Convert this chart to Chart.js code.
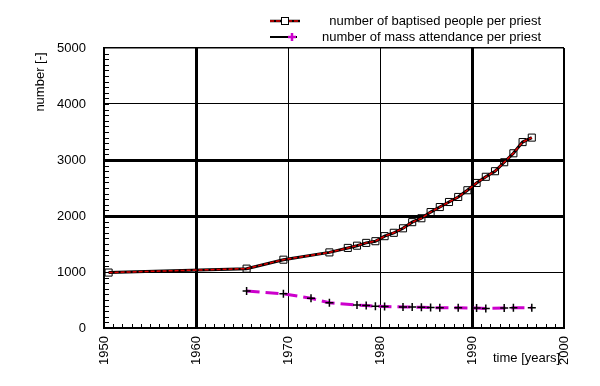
<!DOCTYPE html>
<html>
<head>
<meta charset="utf-8">
<script src="https://cdn.jsdelivr.net/npm/chart.js@4.4.0/dist/chart.umd.min.js"></script>
<style>
html, body { margin: 0; padding: 0; background: #fff; }
</style>
</head>
<body>
<canvas id="myChart" width="600" height="386"></canvas>
<script>
// baptised people per priest (square markers)
const baptisedYears = [1950, 1965, 1969, 1974, 1976, 1977, 1978, 1979, 1980, 1981, 1982, 1983, 1984, 1985, 1986, 1987, 1988, 1989, 1990, 1991, 1992, 1993, 1994, 1995, 1996];
const baptisedValues = [990, 1060, 1220, 1350, 1430, 1470, 1520, 1550, 1640, 1700, 1780, 1890, 1960, 2070, 2160, 2250, 2340, 2460, 2590, 2700, 2800, 2960, 3120, 3320, 3400];
// mass attendance per priest (cross markers)
const massYears = [1965, 1969, 1972, 1974, 1977, 1978, 1979, 1980, 1982, 1983, 1984, 1985, 1986, 1988, 1990, 1991, 1993, 1994, 1996];
const massValues = [660, 610, 530, 450, 410, 400, 390, 385, 375, 375, 370, 365, 360, 360, 355, 350, 355, 360, 360];
const xTicks = [1950, 1960, 1970, 1980, 1990, 2000];
const yTicks = [0, 1000, 2000, 3000, 4000, 5000];
const thickX = [1960, 1990];
const thickY = [2000, 3000];
const legendLabels = ['number of baptised people per priest', 'number of mass attendance per priest'];

const FONT = 'Liberation Sans';

function toPoints(years, values) {
    // values are yearly averages, drawn at mid-year
    return years.map((y, i) => ({ x: y + 0.5, y: values[i] }));
}

const minorTicks = {
    id: 'minorTicks',
    afterDatasetsDraw(chart) {
        const ctx = chart.ctx;
        const xs = chart.scales.x, ys = chart.scales.y;
        const area = chart.chartArea;
        ctx.save();
        ctx.strokeStyle = '#000';
        ctx.lineWidth = 1;
        ctx.beginPath();
        for (let yr = xTicks[0] + 1; yr < xTicks[xTicks.length - 1]; yr++) {
            const px = Math.round(xs.getPixelForValue(yr)) + 0.5;
            ctx.moveTo(px, area.bottom);
            ctx.lineTo(px, area.bottom - 4);
        }
        for (let v = 100; v < 5000; v += 100) {
            const py = Math.round(ys.getPixelForValue(v)) + 0.5;
            ctx.moveTo(area.left, py);
            ctx.lineTo(area.left + 5, py);
        }
        ctx.stroke();
        ctx.restore();
    }
};

const extraText = {
    id: 'extraText',
    afterDraw(chart) {
        const ctx = chart.ctx;
        ctx.save();
        ctx.fillStyle = '#000';
        ctx.font = '13px "' + FONT + '"';
        // axis titles
        ctx.save();
        ctx.translate(40, 82);
        ctx.rotate(-Math.PI / 2);
        ctx.textAlign = 'center';
        ctx.textBaseline = 'middle';
        ctx.fillText('number [-]', 0, 0);
        ctx.restore();
        ctx.textAlign = 'left';
        ctx.textBaseline = 'middle';
        ctx.fillText('time [years]', 493, 358);

        // legend
        const rows = [21, 37];
        ctx.textAlign = 'right';
        ctx.fillText(legendLabels[0], 541, rows[0]);
        ctx.fillText(legendLabels[1], 541, rows[1]);
        // row 1 sample
        ctx.lineWidth = 2.5;
        ctx.strokeStyle = '#000';
        ctx.beginPath();
        ctx.moveTo(270, rows[0]); ctx.lineTo(300, rows[0]);
        ctx.stroke();
        ctx.lineWidth = 1.5;
        ctx.strokeStyle = '#e00000';
        ctx.setLineDash([4, 2]);
        ctx.beginPath();
        ctx.moveTo(270, rows[0]); ctx.lineTo(300, rows[0]);
        ctx.stroke();
        ctx.setLineDash([]);
        ctx.strokeStyle = '#000';
        ctx.lineWidth = 1;
        ctx.fillStyle = '#fff';
        ctx.fillRect(281.5, rows[0] - 3.5, 7, 7);
        ctx.strokeRect(281.5, rows[0] - 3.5, 7, 7);
        // row 2 sample
        ctx.lineWidth = 2;
        ctx.beginPath();
        ctx.moveTo(270, rows[1]); ctx.lineTo(297, rows[1]);
        ctx.stroke();
        ctx.strokeStyle = '#cc00cc';
        ctx.lineWidth = 2.5;
        ctx.beginPath();
        ctx.moveTo(288, rows[1]); ctx.lineTo(296, rows[1]);
        ctx.moveTo(292, rows[1] - 4); ctx.lineTo(292, rows[1] + 4);
        ctx.stroke();
        ctx.restore();
    }
};

Chart.register(minorTicks, extraText);

const canvasContext = document.getElementById('myChart').getContext('2d');
const baptisedPoints = toPoints(baptisedYears, baptisedValues);
const config = {
    type: 'line',
    data: {
        datasets: [{
            label: legendLabels[0] + ' (fit)',
            data: baptisedPoints,
            borderColor: '#e00000',
            borderWidth: 1.5,
            borderDash: [4, 2],
            pointRadius: 0,
            order: 0
        }, {
            label: legendLabels[0],
            data: baptisedPoints,
            borderColor: '#000',
            borderWidth: 3,
            pointStyle: 'rect',
            pointRadius: 5,
            pointBorderWidth: 1,
            pointBorderColor: '#000',
            pointBackgroundColor: 'rgba(255,255,255,0)',
            order: 1
        }, {
            label: legendLabels[1],
            data: toPoints(massYears, massValues),
            borderColor: '#cc00cc',
            borderWidth: 3,
            borderDash: [13, 6],
            pointStyle: 'cross',
            pointRadius: 4,
            pointBorderWidth: 1.5,
            pointBorderColor: '#000',
            order: 2
        }]
    },
    options: {
        responsive: false,
        animation: false,
        devicePixelRatio: 1,
        layout: { padding: { top: 48, right: 36, left: 0, bottom: 0 } },
        plugins: {
            legend: { display: false },
            tooltip: { enabled: false }
        },
        scales: {
            x: {
                type: 'linear',
                min: 1950,
                max: 2000,
                afterBuildTicks: (scale) => { scale.ticks = xTicks.map(v => ({ value: v })); },
                afterFit: (scale) => { scale.height = 58; },
                border: { display: true, color: '#000', width: 2 },
                grid: {
                    color: '#000',
                    drawTicks: false,
                    lineWidth: (c) => thickX.includes(c.tick.value) ? 3 : (c.tick.value === 2000 ? 2 : 1)
                },
                ticks: {
                    color: '#000',
                    font: { family: FONT, size: 13 },
                    minRotation: 90,
                    maxRotation: 90,
                    padding: 8,
                    callback: (v) => String(v)
                }
            },
            y: {
                min: 0,
                max: 5000,
                afterBuildTicks: (scale) => { scale.ticks = yTicks.map(v => ({ value: v })); },
                afterFit: (scale) => { scale.width = 104; },
                border: { display: true, color: '#000', width: 2 },
                grid: {
                    color: '#000',
                    drawTicks: false,
                    lineWidth: (c) => thickY.includes(c.tick.value) ? 3 : (c.tick.value === 5000 ? 1.5 : 1)
                },
                ticks: {
                    color: '#000',
                    font: { family: FONT, size: 13 },
                    padding: 18,
                    callback: (v) => String(v)
                }
            }
        }
    }
};
const myChart = new Chart(canvasContext, config);
</script>
</body>
</html>
